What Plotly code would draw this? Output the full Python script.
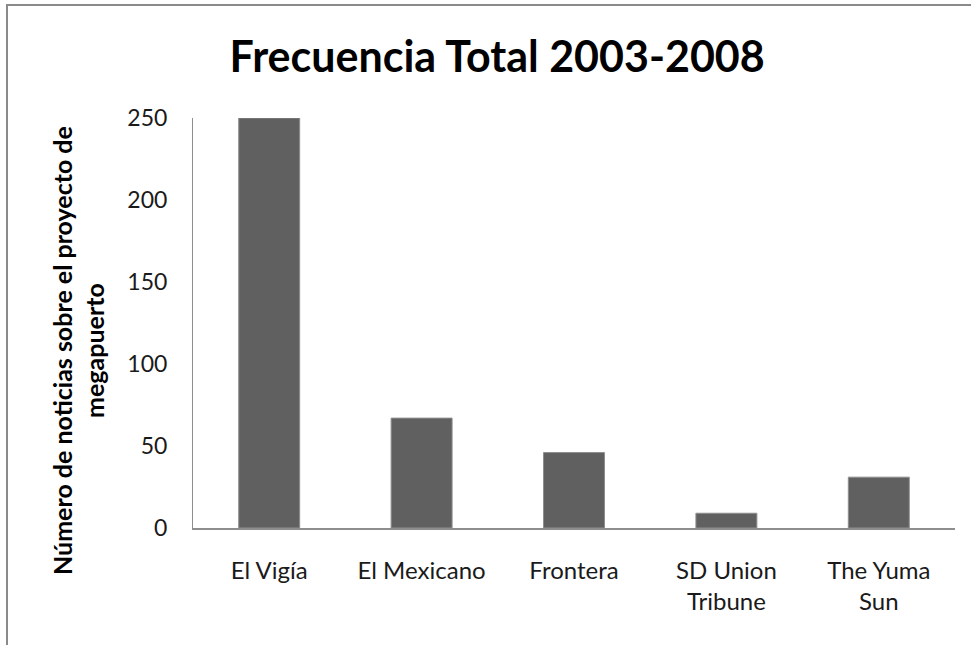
import plotly.graph_objects as go

# Datos del gráfico
periodicos = ['El Vigía', 'El Mexicano', 'Frontera', 'SD Union<br>Tribune', 'The Yuma<br>Sun']
noticias = [250, 67, 46, 9, 31]
ticks_y = [0, 50, 100, 150, 200, 250]

fig = go.Figure()
fig.add_trace(go.Bar(
    x=periodicos,
    y=noticias,
    marker=dict(color='#606060', line=dict(color='#8e8e8e', width=1)),
    showlegend=False
))

fig.update_layout(
    width=971, height=645,
    paper_bgcolor='white', plot_bgcolor='white',
    margin=dict(l=193, r=16, t=118, b=117),
    bargap=0.6,
    font=dict(family='Lato, Calibri, sans-serif', size=22, color='#1a1a1a'),
    title=dict(
        text='<b>Frecuencia Total 2003-2008</b>',
        font=dict(family='Lato, Calibri, sans-serif', size=43, color='black'),
        x=0.512, xanchor='center', y=0.912, yanchor='middle'
    ),
)

fig.update_xaxes(
    automargin=False,
    showline=True, linecolor='#8e8e8e', linewidth=2,
    showgrid=False, ticks='', ticklabelstandoff=20,
    tickfont=dict(size=24)
)
fig.update_yaxes(
    automargin=False,
    range=[0, 250], tickvals=ticks_y,
    showline=True, linecolor='#8e8e8e', linewidth=1,
    showgrid=False, zeroline=False, ticks='', ticklabelstandoff=20,
    tickfont=dict(size=23)
)

# título del eje Y (un poco por debajo del centro, como en el original)
fig.add_annotation(text='<b>Número de noticias sobre el proyecto de<br>megapuerto</b>',
                   xref='paper', yref='paper', x=-0.151, y=0.434,
                   xanchor='center', yanchor='middle',
                   textangle=-90, showarrow=False,
                   font=dict(size=25, color='black'))

# marco de la imagen original (solo se ven lados izquierdo y superior)
fig.add_shape(type='rect', xref='paper', yref='paper',
              x0=-0.2441, x1=1.5, y0=-1, y1=1.2756,
              line=dict(color='#8a8a8a', width=2), layer='below')

# resto de texto cortado en el borde superior
fig.add_annotation(text='<b>p</b>', xref='paper', yref='paper',
                   x=(548 - 193) / 762, y=(528 + 12) / 410,
                   showarrow=False, yanchor='middle',
                   font=dict(family='Liberation Serif', size=22, color='black'))

fig.write_html("out.html", config={'displayModeBar': False},
               post_script="document.body.style.margin='0';")
